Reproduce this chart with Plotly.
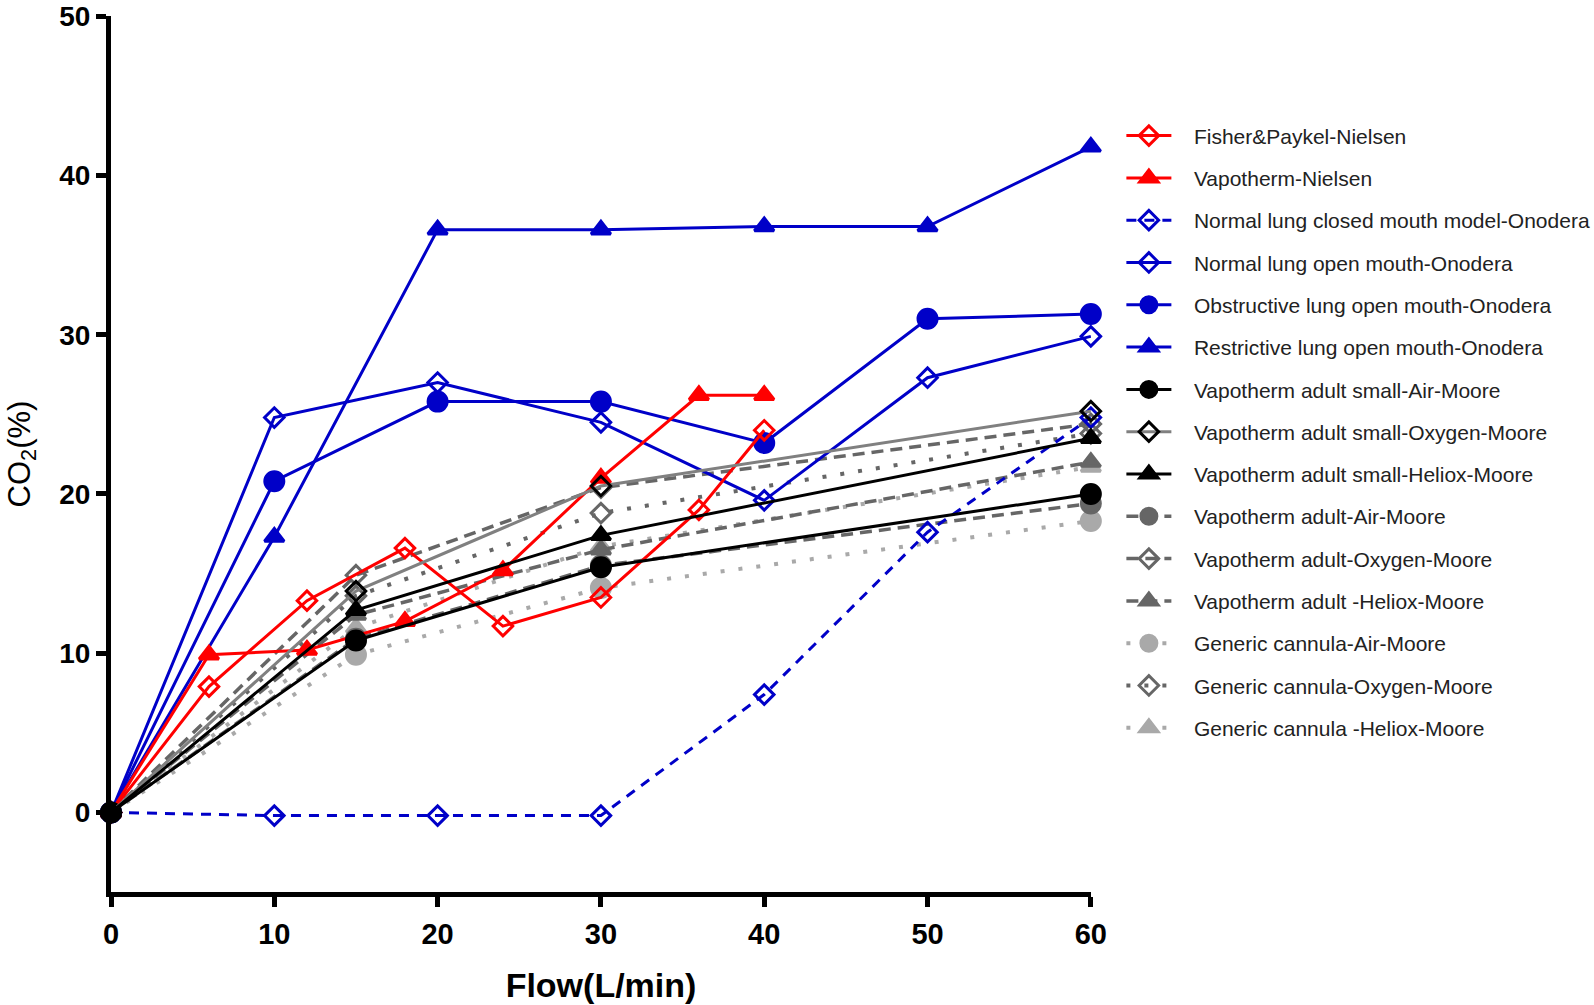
import plotly.graph_objects as go

# ---------------- data ----------------
x_nielsen = [0, 6, 12, 18, 24, 30, 36, 40]
fp_nielsen = [0, 7.9, 13.3, 16.6, 11.7, 13.5, 19.0, 24.0]
vapo_nielsen = [0, 9.9, 10.2, 12.0, 15.2, 21.0, 26.2, 26.2]

x_onodera = [0, 10, 20, 30, 40, 50, 60]
normal_closed = [0, -0.2, -0.2, -0.2, 7.4, 17.6, 24.8]
normal_open = [0, 24.8, 27.0, 24.5, 19.6, 27.3, 29.9]
obstructive = [0, 20.8, 25.8, 25.8, 23.2, 31.0, 31.3]
restrictive = [0, 17.3, 36.6, 36.6, 36.8, 36.8, 41.8]

x_moore = [0, 15, 30, 60]
small_air = [0, 10.8, 15.4, 20.0]
small_oxy = [0, 13.9, 20.5, 25.2]
small_hel = [0, 12.7, 17.4, 23.5]
adult_air = [0, 10.9, 15.5, 19.4]
adult_oxy = [0, 14.9, 20.4, 24.4]
adult_hel = [0, 12.4, 16.5, 22.0]
generic_air = [0, 9.9, 14.1, 18.3]
generic_oxy = [0, 13.6, 18.8, 23.8]
generic_hel = [0, 11.6, 16.7, 21.7]

x_ticks = [0, 10, 20, 30, 40, 50, 60]
y_ticks = [0, 10, 20, 30, 40, 50]

RED = "#ff0000"
BLUE = "#0000c8"
BLACK = "#000000"
GREY = "#808080"
DGREY = "#666666"
LGREY = "#a9a9a9"

# (name, x, y, color, line color, dash, width, symbol, size, legend rank)
series = [
    ("Generic cannula-Air-Moore", x_moore, generic_air, LGREY, LGREY, "4px,14px", 4, "circle", 19, 13),
    ("Generic cannula-Oxygen-Moore", x_moore, generic_oxy, DGREY, DGREY, "4px,14px", 4, "diamond-open", 15, 14),
    ("Generic cannula -Heliox-Moore", x_moore, generic_hel, LGREY, LGREY, "4px,14px", 4, "triangle-up", 17, 15),
    ("Vapotherm adult-Air-Moore", x_moore, adult_air, DGREY, DGREY, "12px,7px", 3.5, "circle", 19, 10),
    ("Vapotherm adult-Oxygen-Moore", x_moore, adult_oxy, DGREY, DGREY, "12px,7px", 3.5, "diamond-open", 15, 11),
    ("Vapotherm adult -Heliox-Moore", x_moore, adult_hel, DGREY, DGREY, "12px,7px", 3.5, "triangle-up", 17, 12),
    ("Normal lung closed mouth model-Onodera", x_onodera, normal_closed, BLUE, BLUE, "10px,8px", 3, "diamond-open", 15, 3),
    ("Normal lung open mouth-Onodera", x_onodera, normal_open, BLUE, BLUE, "solid", 3, "diamond-open", 15, 4),
    ("Obstructive lung open mouth-Onodera", x_onodera, obstructive, BLUE, BLUE, "solid", 3, "circle", 19, 5),
    ("Restrictive lung open mouth-Onodera", x_onodera, restrictive, BLUE, BLUE, "solid", 3, "triangle-up", 17, 6),
    ("Fisher&Paykel-Nielsen", x_nielsen, fp_nielsen, RED, RED, "solid", 3, "diamond-open", 15, 1),
    ("Vapotherm-Nielsen", x_nielsen, vapo_nielsen, RED, RED, "solid", 3, "triangle-up", 17, 2),
    ("Vapotherm adult small-Air-Moore", x_moore, small_air, BLACK, BLACK, "solid", 3, "circle", 19, 7),
    ("Vapotherm adult small-Oxygen-Moore", x_moore, small_oxy, BLACK, GREY, "solid", 3, "diamond-open", 15, 8),
    ("Vapotherm adult small-Heliox-Moore", x_moore, small_hel, BLACK, BLACK, "solid", 3, "triangle-up", 17, 9),
]

PAD = "\u00a0\u00a0\u00a0"

fig = go.Figure()
for name, xs, ys, mc, lc, dash, lw, sym, sz, rank in series:
    fig.add_trace(go.Scatter(
        x=xs, y=ys, name=PAD + name, mode="lines+markers",
        line=dict(color=lc, width=lw, dash=dash),
        marker=dict(symbol=sym, size=sz, color=mc, line=dict(color=mc, width=3)),
        cliponaxis=False, legendrank=rank, legendgroup=name,
    ))

FONT = "Liberation Sans, Arial, sans-serif"

fig.update_layout(
    width=1594, height=1005,
    margin=dict(l=111, r=503, t=16, b=113, autoexpand=False),
    paper_bgcolor="white", plot_bgcolor="white",
    font=dict(family=FONT, color="black"),
    showlegend=True,
    legend=dict(
        x=1.031, y=0.8865, xanchor="left", yanchor="top",
        font=dict(size=21, family=FONT, color="#222222"),
        tracegroupgap=12, itemwidth=45, bgcolor="rgba(0,0,0,0)",
    ),
    xaxis=dict(
        range=[0, 60.01], tickvals=x_ticks, ticktext=[str(v) for v in x_ticks],
        showline=True, linecolor="black", linewidth=5,
        ticks="outside", ticklen=10, tickwidth=5, tickcolor="black",
        ticklabelstandoff=2, ticklabeloverflow="allow",
        showgrid=False, zeroline=False,
        tickfont=dict(size=29, family=FONT, weight="bold"),
        title=dict(text="<b>Flow(L/min)</b>", font=dict(size=34, family=FONT), standoff=26),
    ),
    yaxis=dict(
        range=[-5, 50.02], tickvals=y_ticks, ticktext=[str(v) for v in y_ticks],
        showline=True, linecolor="black", linewidth=5,
        ticks="outside", ticklen=10, tickwidth=5, tickcolor="black",
        ticklabeloverflow="allow",
        showgrid=False, zeroline=False,
        tickfont=dict(size=28, family=FONT, weight="bold"),
        title=dict(text="CO<sub>2</sub>(%)", font=dict(size=31, family=FONT), standoff=21),
    ),
)

fig.write_html(
    "out.html",
    config={"displayModeBar": False},
    post_script="document.body.style.margin='0';document.body.style.overflow='hidden';",
)
